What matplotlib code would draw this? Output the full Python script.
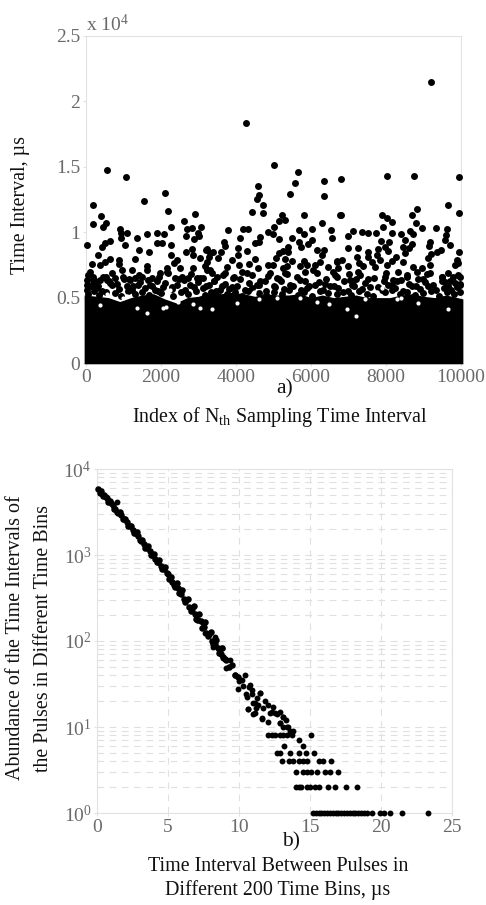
import matplotlib
matplotlib.use("Agg")
import matplotlib.pyplot as plt

plt.rcParams['font.family'] = ['Liberation Serif', 'DejaVu Serif']
plt.rcParams['mathtext.fontset'] = 'custom'
plt.rcParams['mathtext.rm'] = 'Liberation Serif'
plt.rcParams['mathtext.it'] = 'Liberation Serif'
plt.rcParams['mathtext.bf'] = 'Liberation Serif'

W, H = 486, 905
GREY = '#6a6a6a'
EDGE = '#e2e2e2'

# panel a: individual pulses above the solid mass (index, interval)
sparse_a = [
    (9202, 21480), (4277, 18373), (5023, 15164), (552, 14756), (1059, 14220), (6801, 14067),
    (5664, 14577), (5566, 13787), (6348, 13889), (8028, 14322), (8757, 14322), (9957, 14220),
    (4597, 13532),
    (2116, 12997), (1547, 12411), (196, 12079), (2178, 11646), (2898, 11391), (400, 11213),
    (2623, 10882), (196, 10602), (525, 10729), (462, 10372), (2267, 10423), (907, 10219),
    (1085, 9965), (925, 9965), (925, 9582), (1636, 9837), (1902, 9914), (2080, 9837),
    (1360, 9582), (2703, 10219), (3058, 10372), (2818, 10296), (2667, 9735), (2996, 9914),
    (2880, 9480), (3023, 9735), (36, 9047), (640, 9353), (507, 9200), (418, 8894),
    (1040, 9047), (1902, 9149), (2018, 9149), (2267, 9047), (1422, 8614), (1689, 8461),
    (311, 8283), (2836, 8691), (2658, 8461), (3200, 8640), (2258, 8283), (169, 7569),
    (640, 7952), (507, 7748), (373, 7493), (889, 7875), (889, 7569), (1307, 7926),
    (1618, 7417), (2436, 7875), (2347, 7620), (2863, 8257), (3040, 8003), (3307, 8385),
    (3174, 7417), (107, 6983), (18, 6346), (196, 6601), (462, 6601), (951, 7111),
    (1218, 7111), (1618, 7111), (2151, 7238), (2507, 7238), (2863, 7238), (3218, 7111),
    (1485, 6601), (773, 6474), (996, 6550), (1974, 6856), (2196, 6856), (2729, 6474),
    (2951, 6474), (151, 5964), (640, 6091), (1174, 6346), (373, 6346), (551, 6346),
    (1307, 6474), (1752, 6474), (2374, 6474), (2551, 6601), (3129, 6474), (3351, 6856),
    (4613, 12869), (5449, 12920), (6356, 12767), (4551, 12513), (4729, 12079), (4435, 11544),
    (4711, 11493), (5804, 11289), (5235, 11315), (5307, 10933), (5147, 10882), (6764, 11289),
    (6285, 10678), (5022, 10372), (3795, 10168), (4195, 10219), (4311, 10270), (5689, 10168),
    (6018, 10245), (6533, 10168), (4844, 9990), (4995, 9837), (5804, 9837), (4107, 9582),
    (5484, 9582), (6551, 9582), (5147, 9480), (4640, 9659), (4507, 9200), (4613, 9277),
    (3680, 9277), (3706, 8971), (6018, 9404), (5911, 9098), (5689, 9226), (5724, 8843),
    (3226, 8691), (4062, 8818), (4302, 8563), (5378, 8843), (5262, 8588), (5147, 8385),
    (5395, 8512), (6151, 8640), (6356, 8640), (6285, 8257), (3395, 8461), (3600, 8461),
    (3280, 8130), (3529, 8003), (4062, 8257), (3884, 7875), (4507, 7926), (5058, 8003),
    (5307, 7926), (5502, 7799), (5822, 7825), (6684, 7799), (3217, 7748), (4080, 7493),
    (4355, 7569), (4844, 7493), (4995, 7493), (5262, 7238), (5351, 7417), (5707, 7417),
    (5884, 7493), (6107, 7493), (6240, 7748), (6445, 7315), (5840, 6983), (6062, 7111),
    (5307, 6856), (4595, 7238), (3751, 7315), (3306, 7111), (4151, 6983), (3706, 6856),
    (4418, 6729), (4906, 6856), (6595, 6983), (5084, 6474), (3484, 6550), (3929, 6474),
    (9645, 12079), (8818, 11748), (6800, 11289), (9956, 11468), (8685, 11289), (7885, 11315),
    (8018, 11060), (8151, 10805), (8800, 10678), (7911, 10423), (8969, 10347), (9325, 10347),
    (9636, 10245), (7129, 10092), (7369, 9990), (7529, 9965), (7725, 9914), (8151, 9914),
    (8391, 9837), (8640, 10092), (8729, 9863), (6996, 9735), (9600, 9786), (9574, 9404),
    (9707, 9022), (7858, 9328), (8080, 9277), (8507, 9404), (9174, 9277), (9147, 8945),
    (8702, 9073), (6978, 8818), (7245, 8818), (7973, 8843), (8062, 8563), (8462, 8894),
    (8613, 8767), (7778, 8691), (7529, 8512), (9467, 8640), (9351, 8461), (9200, 8334),
    (9947, 8461), (8507, 8385), (7218, 8130), (7529, 8130), (7751, 8257), (8267, 8130),
    (9111, 8003), (9885, 7875), (6818, 7875), (6684, 7748), (7280, 7620), (7618, 7748),
    (7840, 7875), (8151, 7824), (8462, 7748), (9840, 7493), (9929, 7620), (6978, 7417),
    (6729, 7238), (7396, 7417), (8018, 7493), (7707, 7366), (8729, 7315), (8969, 7238),
    (9174, 7493), (7262, 6983), (7013, 6805), (8329, 6983), (8551, 6729), (9662, 6907),
    (9485, 6601), (9796, 6550), (9974, 6601), (8818, 6983), (9174, 6856), (7973, 6550),
    (7529, 6397), (7129, 6295), (6684, 6550), (8196, 6346), (8996, 6397), (9574, 6219),
    (9974, 6041),
]

# panel a: busy band just above the mass
band_x1 = [60, 250, 520, 700, 1150, 1400, 1650, 1950, 2150, 2480, 2800, 3050, 3400, 3650, 3950,
           4300, 4650, 4850, 5150, 5350, 5620, 5850, 6150, 6400, 6650, 7050, 7300, 7680, 8000,
           8300, 8550, 8850, 9100, 9480, 9700, 9930]
band_y1 = [6700, 6300, 6600, 6900, 6450, 6750, 6350, 6600, 6950, 6400, 6800, 6500, 6250, 6700,
           6550, 6900, 6300, 6650, 6400, 6800, 6550, 6250, 6900, 6450, 6700, 6350, 6750, 6500,
           6900, 6300, 6600, 6400, 6800, 6550, 6300, 6700]
band_x2 = [30, 180, 330, 600, 820, 1000, 1250, 1450, 1700, 1900, 2100, 2300, 2600, 2780, 2980,
           3200, 3420, 3700, 3880, 4100, 4350, 4550, 4780, 5000, 5200, 5450, 5700, 5950, 6200,
           6380, 6600, 6880, 7080, 7200, 7450, 7780, 7950, 8150, 8400, 8600, 8800, 9050, 9250,
           9500, 9650, 9850, 9980]
band_y2 = [6000, 6350, 5900, 6250, 6050, 6400, 5850, 6200, 5950, 6300, 6100, 5800, 6350, 6000,
           6200, 5900, 6300, 6050, 5800, 6400, 6150, 5950, 6300, 5850, 6250, 6000, 6350, 5900,
           6200, 6050, 5850, 6300, 6000, 6400, 6100, 5800, 6250, 5950, 6350, 6050, 5850, 6200,
           6000, 6300, 5900, 6150, 5950]
band_x3 = [20, 130, 280, 430, 680, 880, 1080, 1230, 1380, 1580, 1760, 1920, 2060, 2280, 2420,
           2650, 2870, 3120, 3280, 3460, 3620, 3820, 4020, 4230, 4420, 4620, 4810, 5050, 5280,
           5520, 5730, 5900, 6100, 6320, 6500, 6720, 6980, 7150, 7350, 7560, 7900, 8050, 8250,
           8450, 8680, 8900, 9120, 9320, 9550, 9720, 9900]
band_y3 = [5600, 5900, 5750, 5500, 5950, 5650, 5850, 5550, 6000, 5700, 5900, 5500, 5800, 5650,
           5950, 5550, 5800, 5700, 5950, 5500, 5850, 5650, 5900, 5600, 5750, 5950, 5500, 5800,
           5650, 5900, 5550, 5750, 6000, 5600, 5850, 5700, 5500, 5900, 5650, 5800, 5550, 5950,
           5700, 5500, 5850, 5650, 5900, 5600, 5750, 5550, 5800]
band_x4 = [60, 200, 350, 520, 760, 930, 1120, 1300, 1500, 1680, 1850, 2000, 2330, 2540, 2720,
           2920, 3180, 3340, 3560, 3760, 3970, 4150, 4330, 4620, 4800, 5000, 5230, 5420, 5660,
           5800, 6020, 6250, 6450, 6680, 6850, 7060, 7280, 7500, 7650, 7980, 8150, 8380, 8560,
           8780, 8980, 9200, 9420, 9620, 9820, 9960]
band_y4 = [5300, 5500, 5200, 5450, 5350, 5150, 5500, 5300, 5400, 5200, 5550, 5350, 5150, 5450,
           5300, 5500, 5200, 5400, 5550, 5250, 5450, 5150, 5500, 5350, 5200, 5450, 5300, 5550,
           5200, 5400, 5150, 5500, 5350, 5250, 5450, 5200, 5500, 5300, 5150, 5400, 5550, 5250,
           5450, 5200, 5350, 5500, 5150, 5400, 5300, 5450]

# panel a: top edge of the solid mass of points
mass_x = [-50, 300, 600, 900, 1200, 1500, 1800, 2100, 2400, 2700, 3000, 3300, 3600, 3900, 4200,
          4500, 4800, 5100, 5400, 5700, 6000, 6300, 6600, 6900, 7200, 7500, 7800, 8100, 8400,
          8700, 9000, 9300, 9600, 10050]
mass_y = [5200, 5100, 5000, 4700, 5000, 5200, 5300, 4900, 4600, 5000, 5100, 5400, 5300, 5400,
          5300, 5100, 5300, 5200, 5200, 5300, 5000, 5200, 5000, 5100, 5200, 5000, 5000, 5000,
          5200, 5300, 5100, 5000, 5200, 4900]

# panel a: white gaps showing through the mass
gap_x = [987, 373, 2060, 3040, 7750, 8290, 6950, 6150, 4470, 2240, 1620, 2450, 2850, 3360, 5100,
         6480, 7200, 8850, 9650, 7450, 4020, 560, 1350, 1100, 2130, 4600, 5700, 7900, 8400]
gap_y = [4970, 4400, 4200, 4200, 5450, 4870, 4100, 4700, 5450, 5570, 3800, 4700, 4500, 4100,
         5000, 4500, 3600, 4600, 4100, 4900, 4600, 5300, 4200, 5100, 4300, 4900, 5000, 5700, 5000]

a_xticks = [0, 2000, 4000, 6000, 8000, 10000]
a_yticks = [0, 5000, 10000, 15000, 20000, 25000]
a_ylabels = ['0', '0.5', '1', '1.5', '2', '2.5']

# panel b: main curve (time interval, abundance)
curve_x = [0.1, 0.3, 0.5, 0.7, 0.9, 1.1, 1.3, 1.5, 1.7, 1.9, 2.1, 2.3, 2.5, 2.7, 2.9, 3.1, 3.3,
           3.5, 3.7, 3.9, 4.1, 4.3, 4.5, 4.7, 4.9, 5.1, 5.3, 5.5, 5.7, 5.9, 6.1, 6.3, 6.5, 6.7,
           6.9, 7.1, 7.3, 7.5, 7.7, 7.9, 8.1, 8.3, 8.5, 8.7, 8.9, 9.1, 9.3, 9.5, 9.7, 9.9]
curve_y = [5900, 5500, 5000, 4600, 4200, 3800, 3400, 3100, 2900, 2600, 2400, 2150, 1950, 1800,
           1650, 1450, 1350, 1200, 1120, 1000, 900, 840, 740, 680, 610, 520, 490, 430, 410, 350,
           310, 300, 250, 240, 205, 175, 170, 145, 125, 120, 100, 92, 84, 70, 65, 60, 50, 52, 40, 38]

# panel b: in-between bins on the curve
curve2_x = [0.2, 0.4, 0.6, 0.8, 1.0, 1.2, 1.4, 1.6, 1.8, 2.0, 2.2, 2.4, 2.6, 2.8, 3.0, 3.2, 3.4,
            3.6, 3.8, 4.0, 4.2, 4.4, 4.6, 4.8, 5.0, 5.2, 5.4, 5.6, 5.8, 6.0, 6.2, 6.4, 6.6, 6.8,
            7.0, 7.2, 7.4, 7.6, 7.8, 8.0, 8.2, 8.4, 8.6, 8.8, 9.0]
curve2_y = [5300, 4800, 4700, 4100, 4000, 3400, 3200, 3200, 2600, 2650, 2200, 2200, 1800, 1850,
            1500, 1500, 1200, 1270, 1000, 1030, 830, 880, 690, 720, 600, 560, 450, 470, 360, 390,
            285, 310, 225, 255, 180, 205, 140, 165, 115, 128, 92, 104, 72, 84, 62]

# panel b: scattered tail and the outlier near the top
tail_x = [1.39, 6.67, 7.02, 7.49, 7.6, 8.31, 8.19, 8.78, 8.9, 9.37, 9.08, 9.72, 10.42, 9.95,
          10.77, 10.59, 11.48, 11.13, 10.61, 12.07, 12.3, 11.0, 11.6, 13.12, 12.7, 12.9, 13.47,
          10.89, 11.71, 12.18, 11.36, 10.19, 10.5, 10.6, 11.1, 11.47, 11.0, 11.64, 12.06,
          12.53, 13.1, 12.88, 10.3, 10.9, 11.3, 11.8, 12.4, 12.9, 13.3, 10.0, 10.7, 11.2]
tail_y = [4130, 230, 175, 160, 124, 112, 86, 82, 63, 60, 48, 40, 40, 28, 31, 22.5, 25, 19, 16,
          18, 15, 14, 12.6, 13, 14, 11, 10, 24.5, 16.5, 14.5, 18, 35, 24.5, 16, 14.5, 25, 19,
          12.4, 11.3, 14.5, 13, 11, 30, 27, 22, 20, 17, 15, 12, 34, 29, 16.5]

# panel b: low counts sit on whole numbers
count_1 = [15.2, 15.4, 15.6, 15.8, 16.0, 16.2, 16.4, 16.6, 16.8, 17.0, 17.2, 17.4, 17.6, 17.8,
           18.0, 18.2, 18.4, 18.6, 18.8, 19.0, 19.4, 19.9, 20.2, 20.6, 21.5, 23.3]
count_2 = [14.0, 14.2, 14.4, 14.8, 15.0, 15.35, 15.65, 16.3, 16.75, 17.5, 18.3]
count_3 = [14.0, 14.5, 14.76, 15.1, 15.5, 16.05, 16.4, 17.0]
count_4 = [13.0, 13.54, 13.8, 14.2, 14.5, 14.76, 15.6, 15.9, 16.5]
count_5 = [12.65, 12.9, 13.6, 14.2, 14.7, 15.3]
count_6 = [13.2, 14.5]
count_7 = [14.2]
count_8 = [12.06, 12.3, 12.53, 12.88, 13.1, 13.4, 13.7, 15.1]
count_9 = [13.6, 13.8]
count_10 = [13.1, 13.4]

b_xticks = [0, 5, 10, 15, 20, 25]
b_yticks = [1, 10, 100, 1000, 10000]
b_ylabels = ['$10^{0}$', '$10^{1}$', '$10^{2}$', '$10^{3}$', '$10^{4}$']
b_minor = [m * d for d in [1, 10, 100, 1000] for m in [2, 3, 4, 5, 6, 7, 8, 9]]


def axes_px(fig, left, right, top, bottom):
    return fig.add_axes([left / W, 1 - bottom / H, (right - left) / W, (bottom - top) / H])


def label(fig, x, y, s, size=14.4, **kw):
    kw.setdefault('ha', 'center')
    kw.setdefault('va', 'center')
    fig.text(x / W, 1 - y / H, s, fontsize=size, color='#111111', **kw)


def style(ax):
    for s in ax.spines.values():
        s.set_color(EDGE)
    ax.tick_params(which='both', length=2, color=EDGE, labelcolor=GREY, labelsize=14, pad=2)
    ax.tick_params(which='minor', length=0)


fig = plt.figure(figsize=(W / 100, H / 100), dpi=100)

ax1 = axes_px(fig, 86, 461, 36, 363)
ax1.fill_between(mass_x, -60, mass_y, color='black', lw=0, clip_on=False, zorder=3)
ax1.scatter([p[0] for p in sparse_a], [p[1] for p in sparse_a], s=25, c='black', lw=0, clip_on=False, zorder=3)
for xs, ys in [(band_x1, band_y1), (band_x2, band_y2), (band_x3, band_y3), (band_x4, band_y4)]:
    ax1.scatter(xs, ys, s=25, c='black', lw=0, clip_on=False, zorder=3)
ax1.scatter(gap_x, gap_y, s=9, c='white', lw=0, zorder=4)
ax1.set_xlim(0, 10000)
ax1.set_ylim(0, 25000)
ax1.set_xticks(a_xticks)
ax1.set_yticks(a_yticks, a_ylabels)
style(ax1)

ax2 = axes_px(fig, 97, 452, 469, 813)
ax2.set_yscale('log')
ax2.scatter(curve_x, curve_y, s=22, c='black', lw=0, zorder=3, clip_on=False)
ax2.scatter(curve2_x, curve2_y, s=22, c='black', lw=0, zorder=3, clip_on=False)
ax2.scatter(tail_x, tail_y, s=18, c='black', lw=0, zorder=3, clip_on=False)
for n, xs in enumerate([count_1, count_2, count_3, count_4, count_5, count_6, count_7, count_8,
                        count_9, count_10], start=1):
    ax2.scatter(xs, [n] * len(xs), s=18, c='black', lw=0, zorder=3, clip_on=False)
ax2.set_xlim(0, 25)
ax2.set_ylim(1, 10000)
ax2.set_xticks(b_xticks)
ax2.set_yticks(b_yticks, b_ylabels)
ax2.set_yticks(b_minor, minor=True)
ax2.set_yticklabels([], minor=True)
ax2.grid(True, which='both', axis='y', color='#e0e0e0', lw=0.8, ls=(0, (6, 5)))
ax2.grid(True, which='major', axis='x', color='#e0e0e0', lw=0.8, ls=(0, (6, 5)))
ax2.set_axisbelow(True)
style(ax2)

fig.text(86 / W, 1 - 24 / H, r'x $10^{4}$', fontsize=14, color=GREY, ha='left', va='center')
label(fig, 21, 205, 'Time Interval, µs', rotation=90)
label(fig, 285, 389, 'a)', size=15.5)
label(fig, 280, 417, r'Index of N$_{\mathrm{th}}$ Sampling Time Interval')
label(fig, 16, 638, 'Abundance of the Time Intervals of', rotation=90)
label(fig, 43, 638, 'the Pulses in Different Time Bins', rotation=90)
label(fig, 291, 842, 'b)', size=15.5)
label(fig, 278, 866, 'Time Interval Between Pulses in')
label(fig, 278, 890, 'Different 200 Time Bins, µs')

fig.savefig('out.png', dpi=100)
